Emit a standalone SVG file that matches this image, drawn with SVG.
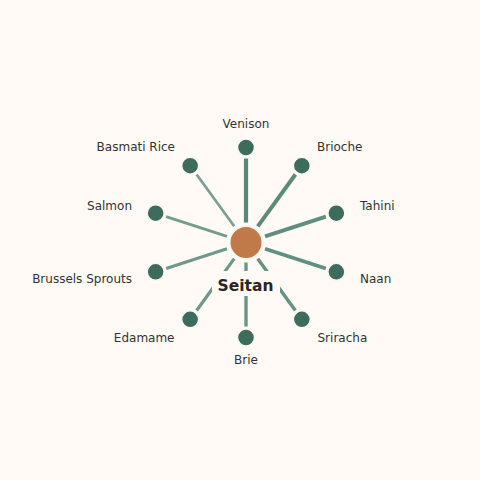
<svg xmlns="http://www.w3.org/2000/svg" width="480" height="480" viewBox="0 0 480 480">
  <style>
    .edge { stroke: #568676; stroke-linecap: butt; fill: none; }
    .leaf { fill: #3d6b5c; stroke: #fdf6f0; stroke-width: 1.5; }
    .hub { fill: #c07a4a; stroke: #fdf6f0; stroke-width: 2; }
    .lbl { font-family: "DejaVu Sans", "Noto Sans", sans-serif; font-size: 12px; fill: #333333; }
    .hublbl { font-family: "DejaVu Sans", "Noto Sans", sans-serif; font-size: 15.5px; font-weight: bold; fill: #2b2520; }
  </style>
  <rect x="0" y="0" width="480" height="480" fill="#fffaf6"/>
  <g id="connectors">
    <line class="edge" x1="246" y1="222.5" x2="246" y2="158.5" stroke-width="4.2" opacity="0.98"/>
    <line class="edge" x1="257.76" y1="226.32" x2="295.37" y2="174.54" stroke-width="4" opacity="0.96"/>
    <line class="edge" x1="265.02" y1="236.32" x2="325.89" y2="216.54" stroke-width="3.9" opacity="0.94"/>
    <line class="edge" x1="265.02" y1="248.68" x2="325.89" y2="268.46" stroke-width="3.7" opacity="0.92"/>
    <line class="edge" x1="257.76" y1="258.68" x2="295.37" y2="310.46" stroke-width="3.5" opacity="0.9"/>
    <line class="edge" x1="246" y1="262.5" x2="246" y2="326.5" stroke-width="3.4" opacity="0.88"/>
    <line class="edge" x1="234.24" y1="258.68" x2="196.63" y2="310.46" stroke-width="3.2" opacity="0.86"/>
    <line class="edge" x1="226.98" y1="248.68" x2="166.11" y2="268.46" stroke-width="3.1" opacity="0.84"/>
    <line class="edge" x1="226.98" y1="236.32" x2="166.11" y2="216.54" stroke-width="2.9" opacity="0.82"/>
    <line class="edge" x1="234.24" y1="226.32" x2="196.63" y2="174.54" stroke-width="2.7" opacity="0.79"/>
  </g>
  <g id="hub">
    <circle class="hub" cx="246" cy="242.5" r="16.5"/>
    <rect x="212" y="271" width="68" height="25" fill="#fffaf6"/>
    <text class="hublbl" x="245.5" y="291" text-anchor="middle">Seitan</text>
  </g>
  <g id="venison">
    <circle class="leaf" cx="246" cy="147.5" r="8.5"/>
    <text class="lbl" x="246" y="128" text-anchor="middle">Venison</text>
  </g>
  <g id="brioche">
    <circle class="leaf" cx="301.84" cy="165.64" r="8.5"/>
    <text class="lbl" x="317" y="151" text-anchor="start">Brioche</text>
  </g>
  <g id="tahini">
    <circle class="leaf" cx="336.35" cy="213.14" r="8.5"/>
    <text class="lbl" x="360" y="210" text-anchor="start">Tahini</text>
  </g>
  <g id="naan">
    <circle class="leaf" cx="336.35" cy="271.86" r="8.5"/>
    <text class="lbl" x="360" y="283" text-anchor="start">Naan</text>
  </g>
  <g id="sriracha">
    <circle class="leaf" cx="301.84" cy="319.36" r="8.5"/>
    <text class="lbl" x="317.5" y="341.5" text-anchor="start">Sriracha</text>
  </g>
  <g id="brie">
    <circle class="leaf" cx="246" cy="337.5" r="8.5"/>
    <text class="lbl" x="246" y="364" text-anchor="middle">Brie</text>
  </g>
  <g id="edamame">
    <circle class="leaf" cx="190.16" cy="319.36" r="8.5"/>
    <text class="lbl" x="174.5" y="341.5" text-anchor="end">Edamame</text>
  </g>
  <g id="brussels-sprouts">
    <circle class="leaf" cx="155.65" cy="271.86" r="8.5"/>
    <text class="lbl" x="132" y="283" text-anchor="end">Brussels Sprouts</text>
  </g>
  <g id="salmon">
    <circle class="leaf" cx="155.65" cy="213.14" r="8.5"/>
    <text class="lbl" x="132" y="210" text-anchor="end">Salmon</text>
  </g>
  <g id="basmati-rice">
    <circle class="leaf" cx="190.16" cy="165.64" r="8.5"/>
    <text class="lbl" x="175" y="151" text-anchor="end">Basmati Rice</text>
  </g>
</svg>
